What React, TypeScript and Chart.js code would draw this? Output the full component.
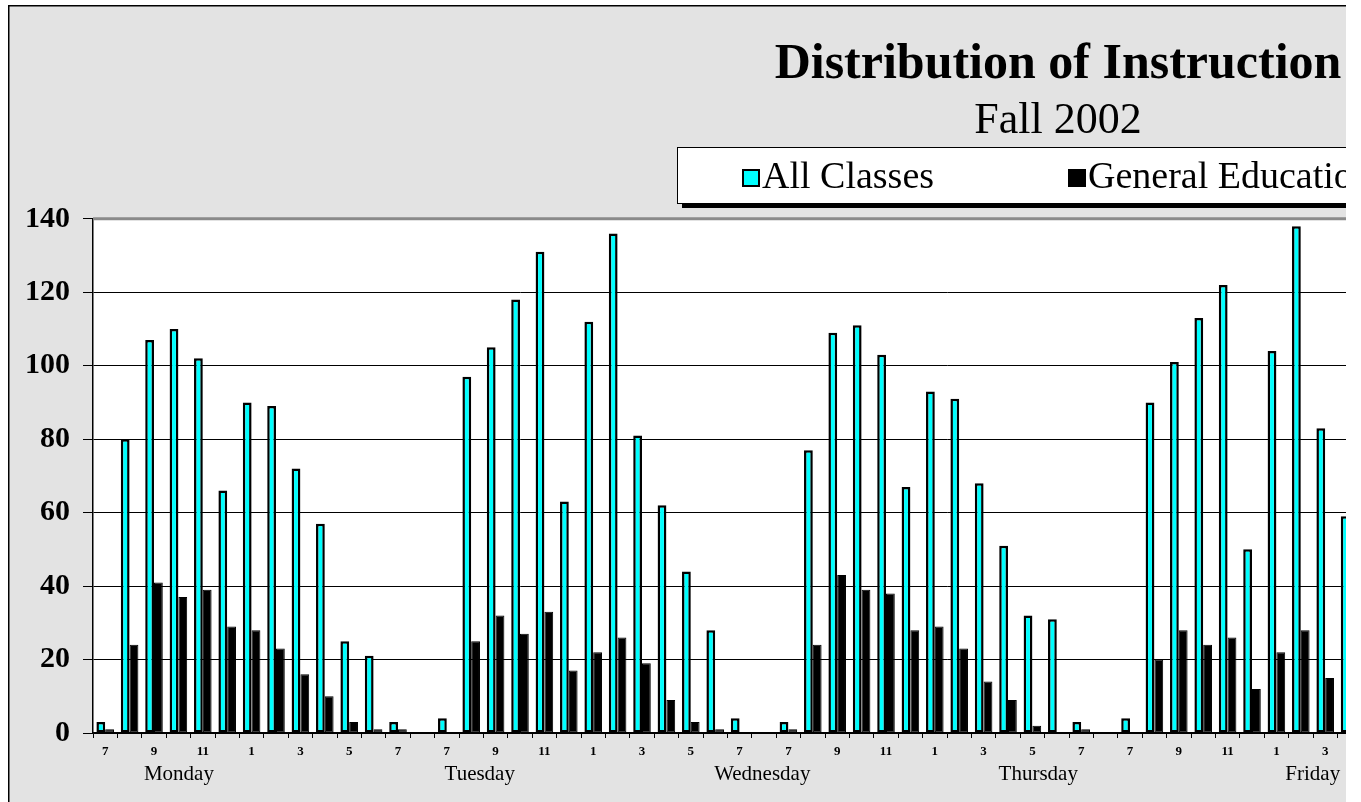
import React, { useEffect, useRef } from 'react';
import { Chart, registerables } from 'chart.js';

Chart.register(...registerables);

const SERIF = '"Liberation Serif", "Times New Roman", serif';

const TITLE = 'Distribution of Instruction';
const SUBTITLE = 'Fall 2002';
const SERIES_NAMES = ['All Classes', 'General Education'];

const DAYS = ['Monday', 'Tuesday', 'Wednesday', 'Thursday', 'Friday'];
// positions of the day captions, in category units (as placed in the original)
const DAY_LABEL_POS = [3.02, 15.35, 26.93, 38.24, 49.49];
const HOURS = ['7', '8', '9', '10', '11', '12', '1', '2', '3', '4', '5', '6', '7', '8'];
const CATEGORIES = DAYS.flatMap(() => HOURS);

const ALL_MON = [3, 80, 107, 110, 102, 66, 90, 89, 72, 57, 25, 21, 3, 0];
const ALL_TUE = [4, 97, 105, 118, 131, 63, 112, 136, 81, 62, 44, 28, 4, 0];
const ALL_WED = [3, 77, 109, 111, 103, 67, 93, 91, 68, 51, 32, 31, 3, 0];
const ALL_THU = [4, 90, 101, 113, 122, 50, 104, 138, 83, 59, null, null, null, null];
const ALL_FRI = [null, null, null, null, null, null, null, null, null, null, null, null, null, null];

const GEN_MON = [1, 24, 41, 37, 39, 29, 28, 23, 16, 10, 3, 1, 1, 0];
const GEN_TUE = [0, 25, 32, 27, 33, 17, 22, 26, 19, 9, 3, 1, 0, 0];
const GEN_WED = [1, 24, 43, 39, 38, 28, 29, 23, 14, 9, 2, 0, 1, 0];
const GEN_THU = [0, 20, 28, 24, 26, 12, 22, 28, 15, null, null, null, null, null];
const GEN_FRI = [null, null, null, null, null, null, null, null, null, null, null, null, null, null];

const Y_MIN = 0;
const Y_MAX = 140;
const Y_STEP = 20;

const CANVAS_W = 2116;
const CANVAS_H = 820;

const backgroundPlugin = {
  id: 'granite',
  beforeDraw(chart: any) {
    const { ctx, chartArea } = chart;
    ctx.save();
    ctx.fillStyle = '#ffffff';
    ctx.fillRect(0, 0, chart.width, chart.height);
    ctx.fillStyle = '#e3e3e3';
    ctx.fillRect(8, 5, chart.width, chart.height);
    ctx.strokeStyle = '#000';
    ctx.lineWidth = 1.5;
    ctx.strokeRect(8.75, 5.75, chart.width, chart.height);
    ctx.fillStyle = '#ffffff';
    ctx.fillRect(chartArea.left, chartArea.top, chartArea.right - chartArea.left, chartArea.bottom - chartArea.top);
    ctx.restore();
  },
  beforeDatasetsDraw(chart: any) {
    const { ctx, chartArea } = chart;
    ctx.save();
    ctx.strokeStyle = '#8a8a8a';
    ctx.lineWidth = 3;
    ctx.beginPath();
    ctx.moveTo(chartArea.left, chartArea.top);
    ctx.lineTo(chartArea.right, chartArea.top);
    ctx.stroke();
    ctx.restore();
  },
};

const legendBoxPlugin = {
  id: 'legendBox',
  afterDraw(chart: any) {
    const { ctx } = chart;
    const cx = chart.width / 2;
    const bw = 762;
    const bh = 56;
    const x0 = cx - bw / 2;
    const y0 = 147;
    ctx.save();
    ctx.fillStyle = '#000';
    ctx.fillRect(x0 + 5, y0 + 5, bw, bh);
    ctx.fillStyle = '#fff';
    ctx.fillRect(x0, y0, bw, bh);
    ctx.strokeStyle = '#000';
    ctx.lineWidth = 1;
    ctx.strokeRect(x0 + 0.5, y0 + 0.5, bw, bh);
    const offsets = [65, 391];
    const sq = 18;
    const cy = y0 + bh / 2 + 3;
    ctx.font = `38px ${SERIF}`;
    ctx.textBaseline = 'middle';
    ctx.textAlign = 'left';
    chart.data.datasets.forEach((ds: any, i: number) => {
      const sx = x0 + offsets[i];
      ctx.fillStyle = ds.backgroundColor;
      ctx.fillRect(sx, cy - sq / 2, sq, sq);
      ctx.strokeStyle = '#000';
      ctx.lineWidth = 2;
      ctx.strokeRect(sx + 1, cy - sq / 2 + 1, sq - 2, sq - 2);
      ctx.fillStyle = '#000';
      ctx.fillText(ds.label, sx + sq + 2, cy);
    });
    ctx.restore();
  },
};

export default function App() {
  const ref = useRef<HTMLCanvasElement | null>(null);

  useEffect(() => {
    if (!ref.current) return;
    const chart = new Chart(ref.current, {
      type: 'bar',
      data: {
        labels: CATEGORIES,
        datasets: [
          {
            label: SERIES_NAMES[0],
            data: [...ALL_MON, ...ALL_TUE, ...ALL_WED, ...ALL_THU, ...ALL_FRI],
            backgroundColor: '#00ffff',
            borderColor: '#000000',
            borderWidth: 2.5,
            borderSkipped: false,
            categoryPercentage: 0.72,
            barPercentage: 1.0,
          },
          {
            label: SERIES_NAMES[1],
            data: [...GEN_MON, ...GEN_TUE, ...GEN_WED, ...GEN_THU, ...GEN_FRI],
            backgroundColor: '#000000',
            borderColor: '#000000',
            borderWidth: 1,
            borderSkipped: false,
            categoryPercentage: 0.72,
            barPercentage: 1.0,
          },
        ],
      },
      options: {
        responsive: false,
        animation: false,
        events: [],
        layout: { padding: { left: 10, right: 10, top: 0, bottom: 21 } },
        plugins: {
          legend: { display: false },
          tooltip: { enabled: false },
          title: {
            display: true,
            text: TITLE,
            color: '#000',
            font: { family: SERIF, size: 50, weight: 'bold', lineHeight: 1.2 },
            padding: { top: 35, bottom: 0 },
          },
          subtitle: {
            display: true,
            text: SUBTITLE,
            color: '#000',
            font: { family: SERIF, size: 44, weight: 'normal', lineHeight: 1.2 },
            padding: { top: 0, bottom: 71 },
          },
        },
        scales: {
          x: {
            type: 'category',
            position: 'bottom',
            weight: 0,
            offset: true,
            grid: {
              display: true,
              offset: true,
              drawOnChartArea: false,
              drawTicks: true,
              tickLength: 5,
              color: '#000',
              lineWidth: 1,
            },
            border: { display: true, color: '#000', width: 1.5 },
            ticks: {
              autoSkip: false,
              maxRotation: 0,
              minRotation: 0,
              padding: 6,
              color: '#000',
              font: { family: SERIF, size: 13, weight: 'bold' },
              callback: (_v: any, i: number) => (i % 2 === 0 ? CATEGORIES[i] : ''),
            },
            afterFit: (s: any) => {
              s.height = 25;
            },
          },
          xDay: {
            type: 'linear',
            position: 'bottom',
            weight: 1,
            offset: false,
            bounds: 'data',
            min: -0.5,
            max: CATEGORIES.length - 0.5,
            grid: { display: false, offset: false },
            border: { display: false },
            ticks: {
              autoSkip: false,
              maxRotation: 0,
              minRotation: 0,
              padding: -4,
              color: '#000',
              font: { family: SERIF, size: 21 },
              callback: (v: any) => {
                const k = DAY_LABEL_POS.indexOf(v);
                return k >= 0 ? DAYS[k] : '';
              },
            },
            afterBuildTicks: (s: any) => {
              s.ticks = DAY_LABEL_POS.map((v) => ({ value: v }));
            },
            afterFit: (s: any) => {
              s.height = 41;
            },
          },
          y: {
            type: 'linear',
            position: 'left',
            min: Y_MIN,
            max: Y_MAX,
            ticks: {
              stepSize: Y_STEP,
              padding: 13,
              color: '#000',
              font: { family: SERIF, size: 30, weight: 'bold' },
            },
            grid: { color: '#000', lineWidth: 1, tickLength: 10, drawTicks: true },
            border: { display: true, color: '#000', width: 1.5 },
            afterFit: (s: any) => {
              s.width = 83;
            },
          },
          ySpacer: {
            type: 'linear',
            position: 'right',
            display: true,
            grid: { display: false },
            border: { display: false },
            ticks: { display: false },
            afterFit: (s: any) => {
              s.width = 305;
            },
          },
        },
      } as any,
      plugins: [backgroundPlugin, legendBoxPlugin],
    });
    return () => chart.destroy();
  }, []);

  return (
    <div
      style={{
        position: 'fixed',
        left: 0,
        top: 0,
        width: 1346,
        height: 802,
        overflow: 'hidden',
        background: '#fff',
      }}
    >
      <canvas
        ref={ref}
        width={CANVAS_W}
        height={CANVAS_H}
        style={{ position: 'absolute', left: 0, top: 0, width: CANVAS_W, height: CANVAS_H }}
      />
    </div>
  );
}
